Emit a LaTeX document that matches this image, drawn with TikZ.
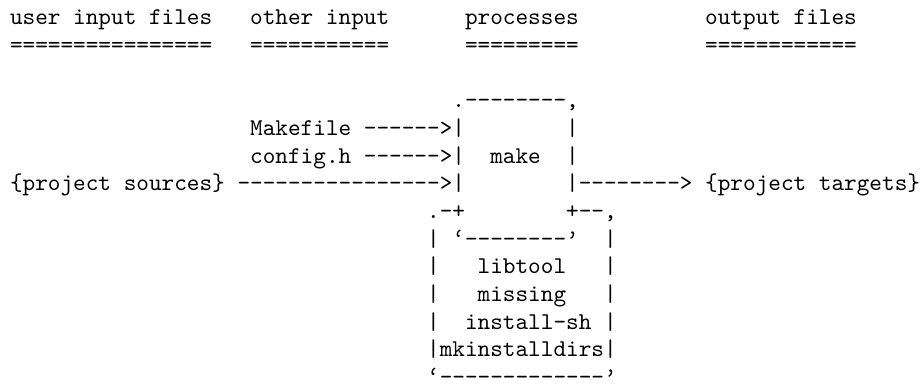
\documentclass[tikz,border=0pt]{standalone}
\newcommand\D{\mbox{-}}
\begin{document}
\begin{tikzpicture}[x=1pt,y=1pt,
  ln/.style={anchor=base west, inner sep=0pt, outer sep=0pt, scale=2.4076,
    font=\fontsize{10}{12}\ttfamily\frenchspacing}]
\useasboundingbox (0,0) rectangle (921,-385);
\def\xo{10}\def\cw{12.64}\def\yo{25}\def\lp{27.64}
% header
\node[ln] (r0) at ({\xo+0*\cw},{-(\yo+0*\lp)}) {user input files~~~other input~~~~~~processes~~~~~~~~~~output files};
\node[ln] (r1) at ({\xo+0*\cw},{-(\yo+1*\lp)}) {================~~~===========~~~~~~=========~~~~~~~~~~============};
% make box
\node[ln] (r3) at ({\xo+35*\cw},{-(\yo+3*\lp)}) {.\D\D\D\D\D\D\D\D,};
\node[ln] (r4) at ({\xo+19*\cw},{-(\yo+4*\lp)}) {Makefile \D\D\D\D\D\D>|~~~~~~~~|};
\node[ln] (r5) at ({\xo+19*\cw},{-(\yo+5*\lp)}) {config.h \D\D\D\D\D\D>|~~make~~|};
\node[ln] (r6) at ({\xo+0*\cw},{-(\yo+6*\lp)}) {\{project sources\} \D\D\D\D\D\D\D\D\D\D\D\D\D\D\D\D>|~~~~~~~~|\D\D\D\D\D\D\D\D> \{project targets\}};
% helper box
\node[ln] (r7) at ({\xo+33*\cw},{-(\yo+7*\lp)}) {.\D+~~~~~~~~+\D\D,};
\node[ln] (r8) at ({\xo+33*\cw},{-(\yo+8*\lp)}) {|~‘\D\D\D\D\D\D\D\D’~~|};
\node[ln] (r9) at ({\xo+33*\cw},{-(\yo+9*\lp)}) {|~~~libtool~~~|};
\node[ln] (r10) at ({\xo+33*\cw},{-(\yo+10*\lp)}) {|~~~missing~~~|};
\node[ln] (r11) at ({\xo+33*\cw},{-(\yo+11*\lp)}) {|~~install-sh~|};
\node[ln] (r12) at ({\xo+33*\cw},{-(\yo+12*\lp)}) {|mkinstalldirs|};
\node[ln] (r13) at ({\xo+33*\cw},{-(\yo+13*\lp)}) {‘\D\D\D\D\D\D\D\D\D\D\D\D\D’};
\end{tikzpicture}
\end{document}
